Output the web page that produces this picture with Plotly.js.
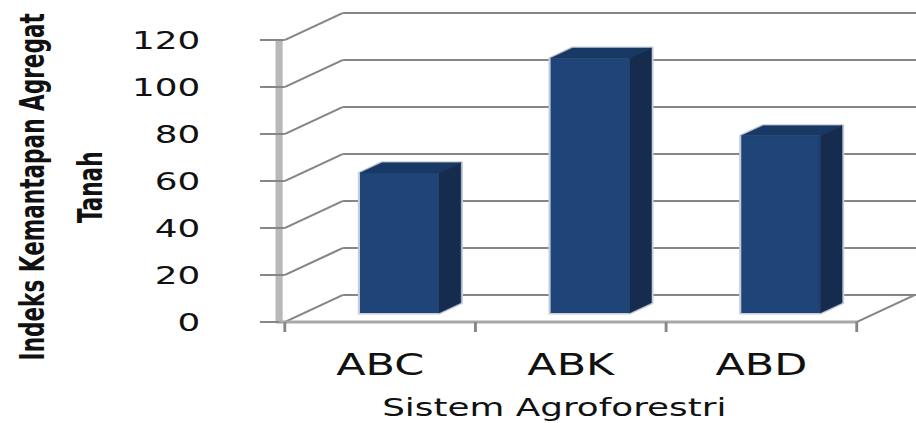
<!DOCTYPE html>
<html>
<head>
<meta charset="utf-8">
<script src="https://cdn.plot.ly/plotly-3.0.1.min.js"></script>
<style>
  html, body { margin: 0; padding: 0; background: #ffffff; overflow: hidden; }
  #chart { width: 640px; height: 423px; transform: scaleX(1.43125); transform-origin: 0 0; }
</style>
</head>
<body>
<div id="chart"></div>
<script>
// ---------------- data ----------------
const categories = ['ABC', 'ABK', 'ABD'];
const values = [59.6, 108.4, 75.4];
const yTickVals = [0, 20, 40, 60, 80, 100, 120];
const yTickText = ['0', '20', '40', '60', '80', '100', '120'];
const xTitle = 'Sistem Agroforestri';
const yTitleLines = ['Indeks Kemantapan Agregat', 'Tanah'];

// ---------------- geometry (unstretched px) ----------------
const W = 640, H = 423, ML = 170, MR = 0, MT = 0, MB = 87;
const UX = 133.2;      // px per category
const UY = 2.35;       // px per value unit
const X0PX = 199;      // px position of the front-left floor corner
const Y0PX = 322;      // px position of value 0 on the front plane
const xRange = [-0.5 - (X0PX - ML) / UX, -0.5 + (W - MR - X0PX) / UX];
const yRange = [-((H - MB) - Y0PX) / UY, (Y0PX - MT) / UY];
const DX = 40.5 / UX, DY = 27 / UY;   // depth of the 3D box in data units
const F1 = 0.333, F2 = 0.71, BW = 0.414; // bar front/back depth fraction, bar width

const GRID = '#868686';
const FRONT = '#1f4478', TOP = '#193965', SIDE = '#152c4e', HALO = '#c5cdd9';

const shapes = [];
function seg(x0, y0, x1, y1, color, width) {
  shapes.push({type: 'line', xref: 'x', yref: 'y', x0, y0, x1, y1, layer: 'below',
               line: {color, width}});
}
// back wall gridlines + left wall diagonals
yTickVals.forEach(v => {
  seg(-0.5 + DX, v + DY, xRange[1], v + DY, GRID, 2);
  seg(-0.5, v, -0.5 + DX, v + DY, GRID, 2);
});
// front value axis band
const axX = -0.5 - 4 / UX;
seg(axX, -0.6, axX, yTickVals[yTickVals.length - 1], '#b9b9b9', 5);
// value tick marks
yTickVals.forEach(v => seg(-0.5 - 17.3 / UX, v, -0.5, v, GRID, 2));
// floor
const nCat = categories.length;
seg(axX, 0, nCat - 0.5, 0, '#a8a8a8', 3);
seg(nCat - 0.5, 0, nCat - 0.5 + DX, DY, GRID, 2);
for (let b = 0; b <= nCat; b++) {
  seg(b - 0.5, 0, b - 0.5, -10 / UY, GRID, 2);
}

// bars: halo, top and side faces computed from the values
const dx2 = (F2 - F1) * DX, dy2 = (F2 - F1) * DY;
const topX = [], topY = [], sideX = [], sideY = [];
values.forEach((v, i) => {
  const xl = i + F1 * DX - BW / 2, xr = xl + BW;
  const yb = F1 * DY, yt = v + F1 * DY;
  const hx = [xl, xl, xl + dx2, xr + dx2, xr + dx2, xr];
  const hy = [yb, yt, yt + dy2, yt + dy2, yb + dy2, yb];
  let p = 'M' + hx.map((x, k) => x + ',' + hy[k]).join(' L') + ' Z';
  shapes.push({type: 'path', xref: 'x', yref: 'y', path: p, layer: 'below',
               fillcolor: HALO, line: {color: HALO, width: 3}});
  topX.push(xl, xl + dx2, xr + dx2, xr, xl, null);
  topY.push(yt, yt + dy2, yt + dy2, yt, yt, null);
  sideX.push(xr, xr, xr + dx2, xr + dx2, xr, null);
  sideY.push(yb, yt, yt + dy2, yb + dy2, yb, null);
});

const traces = [
  {
    type: 'bar', name: 'Indeks Kemantapan Agregat Tanah',
    x: categories.map((c, i) => i + F1 * DX), y: values,
    base: values.map(() => F1 * DY), width: BW,
    text: categories, hoverinfo: 'text+y', textposition: 'none',
    marker: {color: FRONT, line: {width: 0}}
  },
  {
    type: 'scatter', mode: 'lines', x: topX, y: topY, fill: 'toself',
    fillcolor: TOP, line: {color: TOP, width: 0.5}, hoverinfo: 'skip', connectgaps: false
  },
  {
    type: 'scatter', mode: 'lines', x: sideX, y: sideY, fill: 'toself',
    fillcolor: SIDE, line: {color: SIDE, width: 0.5}, hoverinfo: 'skip', connectgaps: false
  }
];

const plotW = W - ML - MR, plotH = H - MT - MB;
const toPaperX = px => (px - ML) / plotW;
const toPaperY = py => (H - MB - py) / plotH;
const titleFont = 'Liberation Sans Narrow, DejaVu Sans Condensed, Arial Narrow, sans-serif';

const layout = {
  width: W, height: H, autosize: false,
  margin: {l: ML, r: MR, t: MT, b: MB, pad: 0},
  paper_bgcolor: '#ffffff', plot_bgcolor: '#ffffff',
  showlegend: false,
  xaxis: {
    type: 'linear', range: xRange, fixedrange: true,
    tickvals: categories.map((c, i) => i), ticktext: categories,
    ticks: '', showgrid: false, zeroline: false, showline: false,
    ticklabelstandoff: 8,
    tickfont: {family: 'DejaVu Sans, Verdana, sans-serif', size: 30, color: '#111111'}
  },
  yaxis: {
    range: yRange, fixedrange: true,
    tickvals: yTickVals, ticktext: yTickText,
    ticks: '', showgrid: false, zeroline: false, showline: false,
    ticklabelstandoff: 29,
    tickfont: {family: 'DejaVu Sans, Verdana, sans-serif', size: 25, color: '#111111'}
  },
  shapes: shapes,
  annotations: [
    {text: xTitle, xref: 'paper', yref: 'paper', x: toPaperX(387.8), y: toPaperY(407),
     xanchor: 'center', yanchor: 'middle', showarrow: false,
     font: {family: 'DejaVu Sans, Verdana, sans-serif', size: 25, color: '#111111'}},
    {text: yTitleLines[0], xref: 'paper', yref: 'paper', x: toPaperX(22.4), y: toPaperY(187),
     xanchor: 'center', yanchor: 'middle', showarrow: false, textangle: -90,
     font: {family: titleFont, size: 24, color: '#111111', weight: 'bold'}},
    {text: yTitleLines[1], xref: 'paper', yref: 'paper', x: toPaperX(63), y: toPaperY(187),
     xanchor: 'center', yanchor: 'middle', showarrow: false, textangle: -90,
     font: {family: titleFont, size: 24, color: '#111111', weight: 'bold'}}
  ]
};

Plotly.newPlot('chart', traces, layout, {displayModeBar: false, staticPlot: true});
</script>
</body>
</html>
